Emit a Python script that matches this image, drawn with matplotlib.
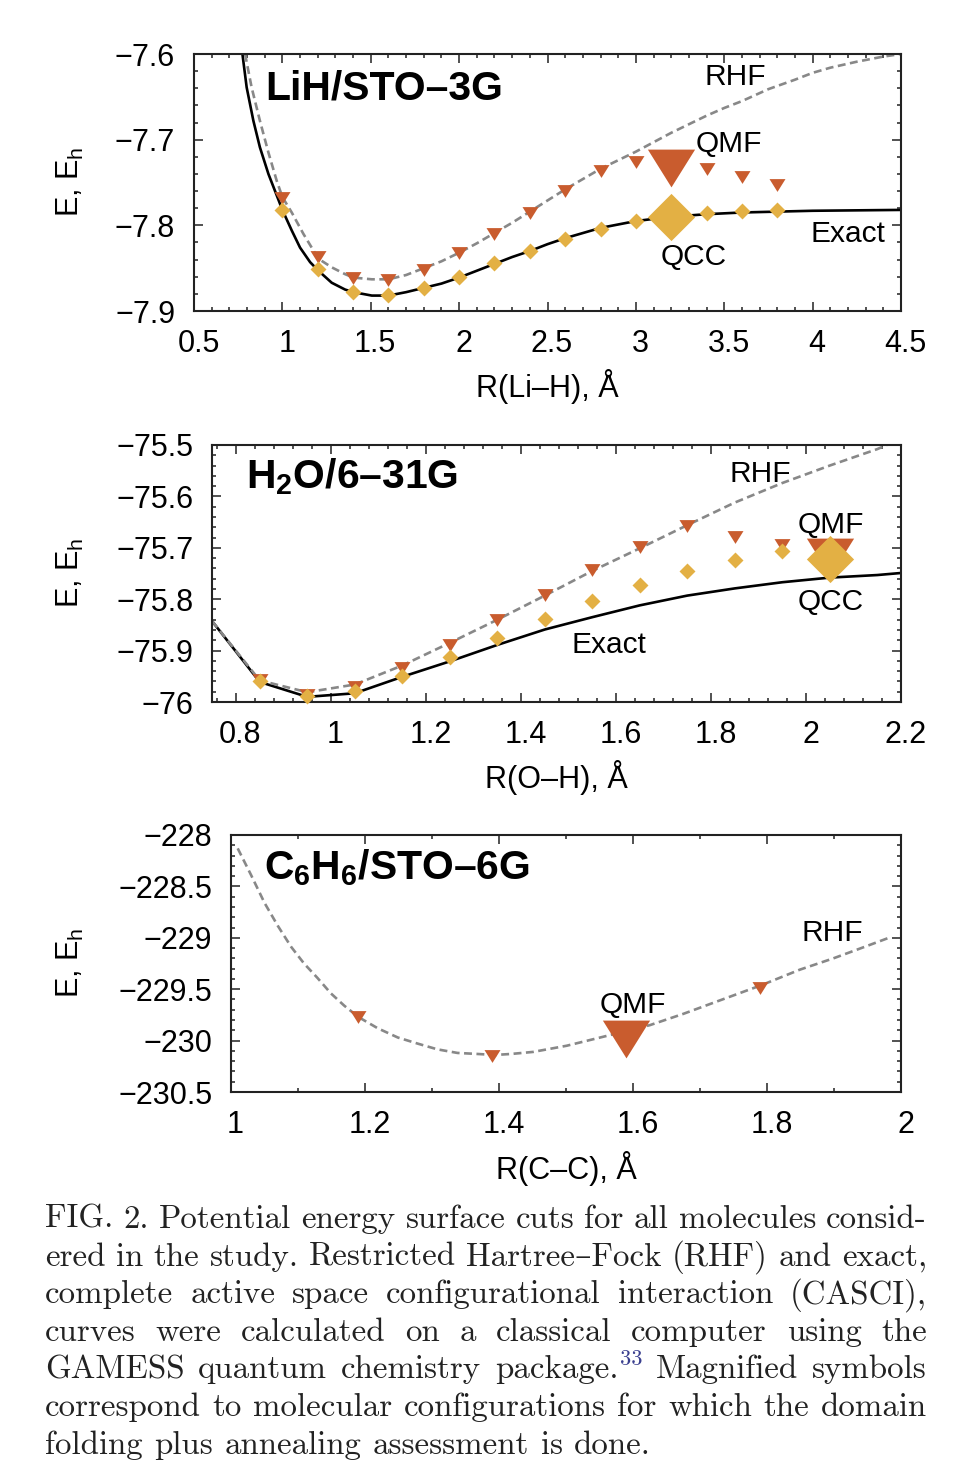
# Potential energy surface cuts: LiH, H2O, C6H6

import matplotlib
matplotlib.use('Agg')
import matplotlib.pyplot as plt
from matplotlib.ticker import FixedLocator, MultipleLocator
from matplotlib.transforms import ScaledTranslation

W, H = 966, 1482
DPI = 100

plt.rcParams['font.family'] = ['Liberation Sans', 'DejaVu Sans']
plt.rcParams['axes.unicode_minus'] = True
plt.rcParams['mathtext.fontset'] = 'custom'
plt.rcParams['mathtext.rm'] = 'Liberation Sans'
plt.rcParams['mathtext.bf'] = 'Liberation Sans:bold'

# LiH / STO-3G
lih_exact_x = [0.774, 0.798, 0.836, 0.873, 0.921, 0.968, 1.0, 1.053, 1.1, 1.157, 1.204, 1.279, 1.355, 1.402,
               1.506, 1.6, 1.7, 1.8, 1.9, 2.0, 2.1, 2.2, 2.3, 2.4, 2.5, 2.6, 2.7, 2.8, 2.9, 3.0, 3.2, 3.4,
               3.6, 3.8, 4.0, 4.5]
lih_exact_y = [-7.6, -7.639, -7.678, -7.709, -7.74, -7.765, -7.782, -7.806, -7.826, -7.843, -7.853, -7.867,
               -7.875, -7.878, -7.882, -7.882, -7.878, -7.873, -7.868, -7.861, -7.853, -7.845, -7.837, -7.83,
               -7.822, -7.815, -7.809, -7.803, -7.799, -7.795, -7.79, -7.787, -7.785, -7.784, -7.783, -7.782]
lih_rhf_x = [0.789, 0.826, 0.873, 0.921, 0.968, 1.0, 1.053, 1.119, 1.204, 1.279, 1.355, 1.402, 1.506, 1.6, 1.7,
             1.8, 1.9, 2.0, 2.1, 2.2, 2.3, 2.4, 2.5, 2.6, 2.7, 2.8, 2.9, 3.0, 3.1, 3.2, 3.3, 3.4, 3.5, 3.6,
             3.75, 3.9, 4.0, 4.1, 4.25, 4.4, 4.5]
lih_rhf_y = [-7.6, -7.639, -7.678, -7.715, -7.748, -7.767, -7.785, -7.81, -7.839, -7.849, -7.857, -7.861, -7.863,
             -7.863, -7.858, -7.85, -7.842, -7.832, -7.821, -7.809, -7.797, -7.784, -7.771, -7.758, -7.746,
             -7.734, -7.724, -7.714, -7.703, -7.692, -7.682, -7.672, -7.663, -7.655, -7.641, -7.63, -7.622,
             -7.616, -7.609, -7.603, -7.6]
lih_x = [1.0, 1.2, 1.4, 1.6, 1.8, 2.0, 2.2, 2.4, 2.6, 2.8, 3.0, 3.2, 3.4, 3.6, 3.8]
lih_qmf = [-7.768, -7.837, -7.862, -7.864, -7.852, -7.832, -7.81, -7.786, -7.76, -7.737, -7.726,
           -7.733, -7.734, -7.743, -7.753]
lih_qcc = [-7.782, -7.851, -7.878, -7.881, -7.873, -7.86, -7.844, -7.83, -7.816, -7.804, -7.795,
           -7.79, -7.786, -7.783, -7.782]
lih_big = 3.2

# H2O / 6-31G
h2o_exact_x = [0.75, 0.85, 0.95, 1.05, 1.15, 1.25, 1.35, 1.45, 1.55, 1.65, 1.75, 1.85, 1.95, 2.05, 2.15, 2.2]
h2o_exact_y = [-75.843, -75.961, -75.99, -75.983, -75.951, -75.921, -75.889, -75.859, -75.835, -75.812,
               -75.793, -75.779, -75.767, -75.758, -75.753, -75.749]
h2o_rhf_x = [0.75, 0.85, 0.95, 1.05, 1.15, 1.25, 1.35, 1.45, 1.55, 1.65, 1.75, 1.85, 1.95, 2.05, 2.15, 2.17]
h2o_rhf_y = [-75.843, -75.958, -75.981, -75.966, -75.929, -75.885, -75.84, -75.793, -75.745, -75.701,
             -75.656, -75.612, -75.574, -75.54, -75.508, -75.5]
h2o_x = [0.85, 0.95, 1.05, 1.15, 1.25, 1.35, 1.45, 1.55, 1.65, 1.75, 1.85, 1.95, 2.05]
h2o_qmf = [-75.957, -75.986, -75.971, -75.934, -75.889, -75.84, -75.791, -75.743, -75.699, -75.657,
           -75.679, -75.694, -75.718]
h2o_qcc = [-75.959, -75.988, -75.978, -75.949, -75.913, -75.875, -75.839, -75.804, -75.773, -75.746,
           -75.723, -75.706, -75.722]
h2o_big = 2.05

# C6H6 / STO-6G
c6h6_rhf_x = [1.01, 1.03, 1.05, 1.07, 1.09, 1.109, 1.129, 1.149, 1.169, 1.19, 1.219, 1.249, 1.279, 1.308, 1.338,
              1.368, 1.393, 1.418, 1.451, 1.501, 1.551, 1.625, 1.675, 1.725, 1.792, 1.849, 1.899, 1.949, 1.986]
c6h6_rhf_y = [-228.13, -228.39, -228.66, -228.885, -229.09, -229.25, -229.39, -229.54, -229.66, -229.77, -229.88,
              -229.97, -230.03, -230.085, -230.12, -230.13, -230.14, -230.13, -230.11, -230.05, -229.97, -229.85,
              -229.74, -229.62, -229.46, -229.31, -229.2, -229.08, -228.99]
c6h6_x = [1.19, 1.39, 1.59, 1.79]
c6h6_qmf = [-229.77, -230.15, -229.98, -229.49]
c6h6_big = 1.59

caption = [
    "FIG. 2. Potential energy surface cuts for all molecules consid-",
    "ered in the study. Restricted Hartree–Fock (RHF) and exact,",
    "complete active space configurational interaction (CASCI),",
    "curves were calculated on a classical computer using the",
    "GAMESS quantum chemistry package.^33 Magnified symbols",
    "correspond to molecular configurations for which the domain",
    "folding plus annealing assessment is done.",
]

RED = '#c95c2e'
GOLD = '#e3b044'
GREY = '#888888'
TRI = [(-1, 0.8), (1, 0.8), (0, -0.8), (-1, 0.8)]
DIA = [(-1, 0), (0, 1), (1, 0), (0, -1), (-1, 0)]
SMALL = 11.5
BIG = 34
LABEL_FS = 22


def fx(px):
    return px / W


def fy(py):
    return 1 - py / H


def panel(box, xlim, ylim, xticks, xlabels, yticks, ylabels, xminor, yminor, xlab, ylab_y, xlab_x, xlab_y):
    l, t, r, b = box
    ax = fig.add_axes([fx(l), fy(b), (r - l) / W, (b - t) / H])
    ax.set_xlim(*xlim)
    ax.set_ylim(*ylim)
    ax.xaxis.set_major_locator(FixedLocator(xticks))
    ax.set_xticklabels(xlabels)
    ax.yaxis.set_major_locator(FixedLocator(yticks))
    ax.set_yticklabels(ylabels)
    ax.xaxis.set_minor_locator(MultipleLocator(xminor))
    ax.yaxis.set_minor_locator(MultipleLocator(yminor))
    ax.tick_params(which='major', direction='in', top=True, right=True, length=6.5, width=1.1,
                   labelsize=LABEL_FS, color='#222222')
    ax.tick_params(which='minor', direction='in', top=True, right=True, length=3.2, width=1.1, color='#222222')
    ax.tick_params(axis='x', which='major', pad=13)
    ax.tick_params(axis='y', which='major', pad=13.5)
    for s in ax.spines.values():
        s.set_linewidth(1.5)
        s.set_color('#222222')
    # labels under the axis sit a few pixels right of their ticks
    shift = ScaledTranslation(4.5 / DPI, 0, fig.dpi_scale_trans)
    for lab in ax.get_xticklabels():
        lab.set_transform(lab.get_transform() + shift)
    ax.set_xlabel(xlab, fontsize=LABEL_FS, va='center')
    ax.xaxis.set_label_coords((xlab_x - l) / (r - l), (b - xlab_y) / (b - t))
    ax.set_ylabel(r'E, E$_{\mathrm{h}}$', fontsize=LABEL_FS, va='center')
    ax.yaxis.set_label_coords((70 - l) / (r - l), (b - ylab_y) / (b - t))
    return ax


def draw_markers(ax, xs, ys, verts, color, big_x):
    for x, y in zip(xs, ys):
        ms = BIG if x == big_x else SMALL
        ax.plot([x], [y], linestyle='none', marker=verts, markersize=ms, color=color,
                markeredgewidth=0, clip_on=False, zorder=4)


def note(px, py, s, **kw):
    fig.text(fx(px), fy(py), s, fontsize=kw.pop('fontsize', 21.5), ha=kw.pop('ha', 'center'), va='baseline', **kw)


def draw_caption():
    left, right = 45, 927
    fs = 23.7
    fam = ['cmr10', 'DejaVu Serif']
    r = fig.canvas.get_renderer()

    def width(s, size):
        t = fig.text(0, 0, s, fontsize=size, family=fam)
        w = t.get_window_extent(r).width
        t.remove()
        return w

    y = 1228
    for i, line in enumerate(caption):
        parts = []
        for w in line.split(' '):
            if '^' in w:
                word, sup = w.split('^')
                parts.append((word, sup))
            else:
                parts.append((w, None))
        total = 0
        for word, sup in parts:
            total += width(word, fs)
            if sup:
                total += width(sup, fs * 0.68) + 2
        if i == len(caption) - 1:
            gap = 11.5
        else:
            gap = (right - left - total) / (len(parts) - 1)
        x = left
        for word, sup in parts:
            fig.text(fx(x), fy(y), word, fontsize=fs, family=fam, ha='left', va='baseline', color='#222222')
            x += width(word, fs)
            if sup:
                fig.text(fx(x + 2), fy(y - 13), sup, fontsize=fs * 0.68, family=fam, ha='left', va='baseline',
                         color='#3a3f8f')
                x += width(sup, fs * 0.68) + 2
            x += gap
        y += 37.6


fig = plt.figure(figsize=(W / DPI, H / DPI), dpi=DPI)

ax1 = panel((194, 54, 901, 311), (0.5, 4.5), (-7.9, -7.6),
            [0.5, 1, 1.5, 2, 2.5, 3, 3.5, 4, 4.5], ['0.5', '1', '1.5', '2', '2.5', '3', '3.5', '4', '4.5'],
            [-7.9, -7.8, -7.7, -7.6], ['−7.9', '−7.8', '−7.7', '−7.6'], 0.1, 0.02, 'R(Li–H), Å', 182, 547, 387)
ax1.plot(lih_exact_x, lih_exact_y, color='black', lw=1.9)
ax1.plot(lih_rhf_x, lih_rhf_y, color=GREY, lw=1.9, dashes=(3, 1.7))
draw_markers(ax1, lih_x, lih_qmf, TRI, RED, lih_big)
draw_markers(ax1, lih_x, lih_qcc, DIA, GOLD, lih_big)
note(265, 100, 'LiH/STO–3G', fontsize=29.4, fontweight='bold', ha='left')
note(735, 85, 'RHF')
note(729, 152, 'QMF')
note(694, 265, 'QCC')
note(848, 242, 'Exact')

ax2 = panel((212, 445, 901, 702), (0.7495, 2.2), (-76, -75.5),
            [0.8, 1, 1.2, 1.4, 1.6, 1.8, 2, 2.2], ['0.8', '1', '1.2', '1.4', '1.6', '1.8', '2', '2.2'],
            [-76, -75.9, -75.8, -75.7, -75.6, -75.5], ['−76', '−75.9', '−75.8', '−75.7', '−75.6', '−75.5'],
            0.04, 0.02, 'R(O–H), Å', 573, 556, 778)
ax2.plot(h2o_exact_x, h2o_exact_y, color='black', lw=1.9)
ax2.plot(h2o_rhf_x, h2o_rhf_y, color=GREY, lw=1.9, dashes=(3, 1.7))
draw_markers(ax2, h2o_x, h2o_qmf, TRI, RED, h2o_big)
draw_markers(ax2, h2o_x, h2o_qcc, DIA, GOLD, h2o_big)
note(246, 488, r'H$_{\mathbf{2}}$O/6–31G', fontsize=29.4, fontweight='bold', ha='left')
note(760, 482, 'RHF')
note(831, 533, 'QMF')
note(831, 610, 'QCC')
note(609, 653, 'Exact')

ax3 = panel((231, 835, 901, 1092), (1, 2), (-230.5, -228),
            [1, 1.2, 1.4, 1.6, 1.8, 2], ['1', '1.2', '1.4', '1.6', '1.8', '2'],
            [-230.5, -230, -229.5, -229, -228.5, -228],
            ['−230.5', '−230', '−229.5', '−229', '−228.5', '−228'], 0.1, 0.1, 'R(C–C), Å', 963, 566, 1168)
ax3.plot(c6h6_rhf_x, c6h6_rhf_y, color=GREY, lw=1.9, dashes=(3, 1.7))
draw_markers(ax3, c6h6_x, c6h6_qmf, TRI, RED, c6h6_big)
note(264, 879, r'C$_{\mathbf{6}}$H$_{\mathbf{6}}$/STO–6G', fontsize=29.4, fontweight='bold', ha='left')
note(633, 1013, 'QMF')
note(832, 941, 'RHF')

draw_caption()

fig.savefig('out.png', dpi=DPI)
